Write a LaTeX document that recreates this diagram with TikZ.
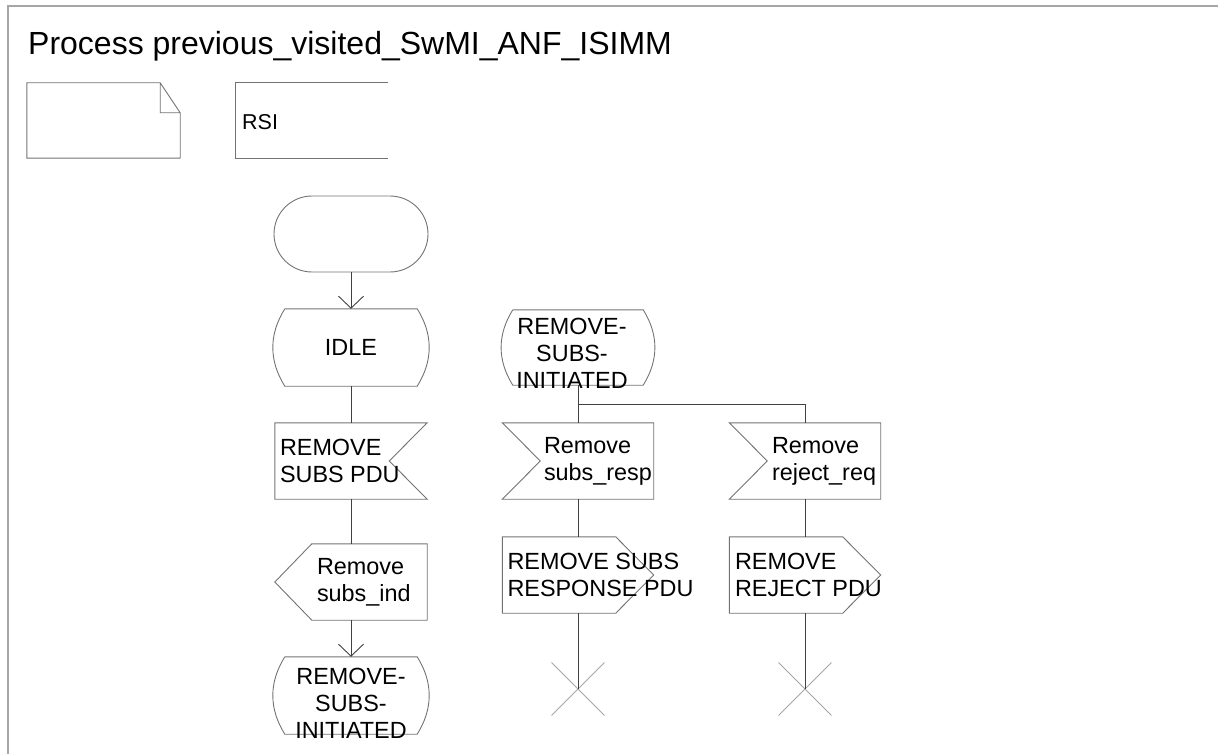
\documentclass[tikz,border=0pt]{standalone}
\usepackage{fontspec}
\setmainfont{Liberation Sans}
\usetikzlibrary{positioning,arrows.meta,shapes.misc}

\newcommand{\sdlfont}{\fontsize{23.4}{27}\selectfont}
\newcommand{\sdlheadfont}{\fontsize{32}{38}\selectfont}
\newcommand{\rsifont}{\fontsize{21.5}{25}\selectfont}

\begin{document}
\begin{tikzpicture}
  [x=1pt,y=-1pt,
   symline/.style={draw=black!55,line width=0.9pt},
   conn/.style={draw=black!75,line width=0.9pt},
   sdlarrow/.style={-{Straight Barb[length=12pt,width=25pt]}},
   lbl/.style={font=\sdlfont,align=left,inner sep=0pt},
   textsym/.style={minimum width=153pt,minimum height=75pt,inner sep=0pt,
     append after command={\pgfextra{\draw[symline]
       (\tikzlastnode.north west) -- ([xshift=-20pt]\tikzlastnode.north east)
       -- ([yshift=-30pt]\tikzlastnode.north east) -- (\tikzlastnode.south east)
       -- (\tikzlastnode.south west) -- cycle
       ([xshift=-20pt]\tikzlastnode.north east) -- ([xshift=-20pt,yshift=-30pt]\tikzlastnode.north east)
       -- ([yshift=-30pt]\tikzlastnode.north east);}}},
   rsisym/.style={minimum width=152pt,minimum height=75pt,inner sep=0pt,
     append after command={\pgfextra{\draw[symline]
       (\tikzlastnode.north east) -- (\tikzlastnode.north west)
       -- (\tikzlastnode.south west) -- (\tikzlastnode.south east);}}},
   startsym/.style={symline,rounded corners=38pt,minimum width=154pt,minimum height=76pt},
   statesym/.style={minimum width=132pt,minimum height=77pt,inner sep=0pt,font=\sdlfont,
     append after command={\pgfextra{\draw[symline]
       (\tikzlastnode.north west) -- (\tikzlastnode.north east)
       to[bend left=32] (\tikzlastnode.south east) -- (\tikzlastnode.south west)
       to[bend left=32] (\tikzlastnode.north west);}}},
   inright/.style={minimum width=152pt,minimum height=76pt,inner sep=0pt,
     append after command={\pgfextra{\draw[symline]
       (\tikzlastnode.north west) -- (\tikzlastnode.north east)
       -- ([xshift=-38pt]\tikzlastnode.east) -- (\tikzlastnode.south east)
       -- (\tikzlastnode.south west) -- cycle;}}},
   inleft/.style={minimum width=151pt,minimum height=76pt,inner sep=0pt,
     append after command={\pgfextra{\draw[symline]
       (\tikzlastnode.north west) -- (\tikzlastnode.north east)
       -- (\tikzlastnode.south east) -- (\tikzlastnode.south west)
       -- ([xshift=38pt]\tikzlastnode.west) -- cycle;}}},
   outleft/.style={minimum width=152pt,minimum height=76pt,inner sep=0pt,
     append after command={\pgfextra{\draw[symline]
       ([xshift=37pt]\tikzlastnode.north west) -- (\tikzlastnode.north east)
       -- (\tikzlastnode.south east) -- ([xshift=37pt]\tikzlastnode.south west)
       -- (\tikzlastnode.west) -- cycle;}}},
   outright/.style={minimum width=151pt,minimum height=76pt,inner sep=0pt,
     append after command={\pgfextra{\draw[symline]
       (\tikzlastnode.north west) -- ([xshift=-38pt]\tikzlastnode.north east)
       -- (\tikzlastnode.east) -- ([xshift=-38pt]\tikzlastnode.south east)
       -- (\tikzlastnode.south west) -- cycle;}}},
   stopsym/.style={cross out,draw=black!35,line width=0.9pt,minimum size=52pt,inner sep=0pt}]

  \useasboundingbox (0,0) rectangle (1218,754);
  \draw[draw=black!35,line width=1.5pt] (1218,6) -- (8,6) -- (8,754);

  \node[lbl,font=\sdlheadfont,anchor=base west] (title) at (28,55)
    {Process previous\_visited\_SwMI\_ANF\_ISIMM};

  \node[textsym] (note) at (103.5,120.5) {};
  \node[rsisym] (rsi) at (312,120.5) {};
  \node[lbl,font=\rsifont,anchor=base west] (rsit) at (242,130) {RSI};

  % left column
  \node[startsym] (strt) at (351,234) {};
  \node[statesym] (idle) at (351,347.5) {IDLE};
  \node[inright] (in1) at (351,461) {};
  \node[outleft] (out1) at (351,582) {};
  \node[statesym] (s1) at (351,695.5) {};

  % middle and right column
  \node[statesym,minimum width=130pt,minimum height=75pt] (s2) at (578,347.5) {};
  \coordinate (fork) at (578,404);
  \node[inleft] (in2) at (578,461) {};
  \node[outright] (out2) at (578,575) {};
  \node[stopsym] (stop2) at (578,689) {};
  \node[inleft] (in3) at (805,461) {};
  \node[outright] (out3) at (805,575) {};
  \node[stopsym] (stop3) at (805,689) {};

  \node[lbl,right=5pt of in1.west] (in1t) {REMOVE\\SUBS PDU};
  \node[lbl,right=42pt of out1.west] (out1t) {Remove\\subs\_ind};
  \node[lbl,align=center] (s1t) at ([yshift=-8pt]s1.center) {REMOVE-\\SUBS-\\INITIATED};
  \node[lbl,align=center] (s2t) at ([xshift=-6pt,yshift=-6pt]s2.center) {REMOVE-\\SUBS-\\INITIATED};
  \node[lbl,right=41.5pt of in2.west] (in2t) {Remove\\subs\_resp};
  \node[lbl,right=5pt of out2.west] (out2t) {REMOVE SUBS\\RESPONSE PDU};
  \node[lbl,right=42.5pt of in3.west] (in3t) {Remove\\reject\_req};
  \node[lbl,right=5.5pt of out3.west] (out3t) {REMOVE\\REJECT PDU};

  \draw[conn,sdlarrow] (strt) -- (idle);
  \foreach \from/\to in {idle/in1,in1/out1,s2/in2,in2/out2,in3/out3}
    \draw[conn] (\from) -- (\to);
  \draw[conn,sdlarrow] (out1) -- (s1);
  \draw[conn] (fork) -| (in3);
  \draw[conn] (out2) -- (stop2.center);
  \draw[conn] (out3) -- (stop3.center);

\end{tikzpicture}
\end{document}
